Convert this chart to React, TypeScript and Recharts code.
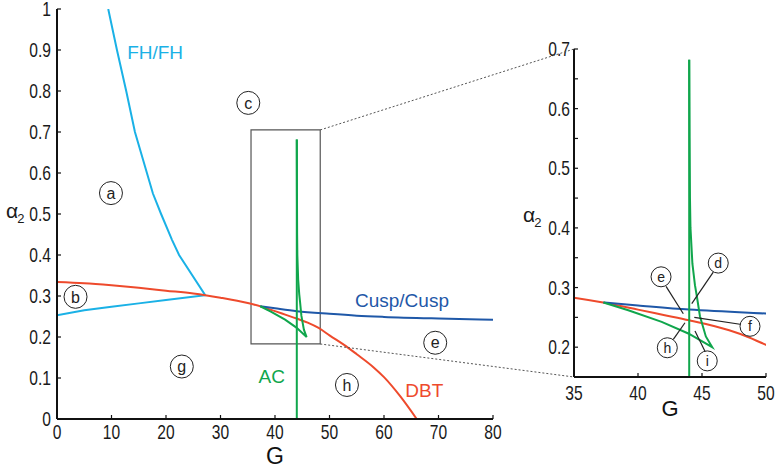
import React from 'react';
import {
  ComposedChart,
  Line,
  XAxis,
  YAxis,
  ReferenceDot,
  ReferenceLine,
  ReferenceArea,
} from 'recharts';

// boundary curves (G, alpha2)
const fhG = [0, 5, 10, 15, 20, 27.2, 22.4, 21.1, 19.1, 17.6, 16.5, 14.3, 12.7, 11.0, 9.4];
const fhA = [0.253, 0.265, 0.274, 0.282, 0.29, 0.302, 0.4, 0.437, 0.5, 0.55, 0.6, 0.7, 0.8, 0.9, 1.0];
const dbtG = [0, 5, 10, 15, 20, 25, 27.2, 30, 35, 37.5, 40, 42, 44, 46, 48, 50, 53.5, 55, 58, 60, 63, 66];
const dbtA = [0.334, 0.331, 0.326, 0.32, 0.313, 0.306, 0.302, 0.296, 0.283, 0.274, 0.263, 0.254, 0.245, 0.235, 0.222, 0.204, 0.173, 0.158, 0.127, 0.102, 0.055, 0];
const cuspG = [37.3, 40, 44, 50, 55, 60, 70, 80];
const cuspA = [0.275, 0.27, 0.263, 0.2565, 0.252, 0.249, 0.245, 0.242];
const acG = [44, 44.03, 44.06, 44.1, 44.25, 44.45, 44.6, 44.84, 45.3, 45.8, 43.93, 41.85, 39.24, 37.3];
const acA = [0.682, 0.55, 0.45, 0.4, 0.34, 0.304, 0.285, 0.252, 0.218, 0.2, 0.223, 0.2425, 0.262, 0.275];
const stemG = [44, 44];
const stemA = [0, 0.682];

// region markers in the main plot
const regionLetters = ['a', 'b', 'c', 'e', 'g', 'h'];
const regionG = [9.9, 3.4, 35.1, 69.4, 22.9, 53.2];
const regionA = [0.551, 0.298, 0.771, 0.186, 0.128, 0.083];

// curve names
const curveNames = ['FH/FH', 'Cusp/Cusp', 'AC', 'DBT'];
const curveNameG = [18, 63.3, 39.4, 67.4];
const curveNameA = [0.895, 0.289, 0.105, 0.071];

// callouts in the zoomed plot
const calloutLetters = ['d', 'e', 'f', 'h', 'i'];
const calloutG = [46.27, 41.8, 48.75, 42.29, 45.41];
const calloutA = [0.341, 0.318, 0.235, 0.199, 0.177];
const leaderFromG = [45.88, 42.19, 48.1, 42.76, 45.31];
const leaderFromA = [0.326, 0.302, 0.238, 0.213, 0.19];
const leaderToG = [44.2, 43.54, 44.4, 43.67, 44.45];
const leaderToA = [0.273, 0.256, 0.25, 0.241, 0.227];

const zoomBoxG = [35.6, 48.3];
const zoomBoxA = [0.183, 0.705];

const mainGTicks = [0, 10, 20, 30, 40, 50, 60, 70, 80];
const mainATicks = [0, 0.1, 0.2, 0.3, 0.4, 0.5, 0.6, 0.7, 0.8, 0.9, 1];
const insetGTicks = [35, 40, 45, 50];
const insetATicks = [0.2, 0.25, 0.3, 0.35, 0.4, 0.45, 0.5, 0.55, 0.6, 0.65, 0.7];

const CYAN = '#1ab1e6';
const RED = '#ee4a2c';
const BLUE = '#1f58a8';
const GREEN = '#10a64c';
const FONT = '"Liberation Sans", Arial, sans-serif';

const pts = (g: number[], a: number[]) => g.map((x, i) => ({ G: x, a: a[i] }));
const fhData = pts(fhG, fhA);
const dbtData = pts(dbtG, dbtA);
const cuspData = pts(cuspG, cuspA);
const acData = pts(acG, acA);
const stemData = pts(stemG, stemA);

// plot boxes (page pixels) used for the dotted connector lines
const MAIN = { left: 57, right: 493, top: 9, bottom: 419, g: [0, 80], a: [0, 1] };
const INSET = { left: 574, right: 766, top: 49, bottom: 377, g: [35, 50], a: [0.15, 0.7] };
const px = (b: typeof MAIN, g: number) => b.left + ((g - b.g[0]) / (b.g[1] - b.g[0])) * (b.right - b.left);
const py = (b: typeof MAIN, a: number) => b.bottom - ((a - b.a[0]) / (b.a[1] - b.a[0])) * (b.bottom - b.top);

const TICK_LEN = 4;
const TICK_FS = 20;
const NARROW = 0.78; // tick numbers look like a condensed face

// inward tick mark + optional label (MATLAB style box axes)
const Tick = (props: any) => {
  const { x, y, payload, side, m, fmt } = props;
  const v = payload.value;
  const label = fmt ? fmt(v) : '';
  if (side === 'bottom') {
    const ay = y - m;
    return (
      <g>
        <line x1={x} y1={ay} x2={x} y2={ay - TICK_LEN} stroke='#111' strokeWidth={1.2} />
        <text transform={`translate(${x},${y}) scale(${NARROW},1)`} dy='0.72em' textAnchor='middle' fontSize={TICK_FS} fill='#1a1a1a' fontFamily={FONT}>{label}</text>
      </g>
    );
  }
  if (side === 'left') {
    const ax = x + m;
    return (
      <g>
        <line x1={ax} y1={y} x2={ax + TICK_LEN} y2={y} stroke='#111' strokeWidth={1.2} />
        <text transform={`translate(${x},${y}) scale(${NARROW},1)`} dy='0.36em' textAnchor='end' fontSize={TICK_FS} fill='#1a1a1a' fontFamily={FONT}>{label}</text>
      </g>
    );
  }
  if (side === 'top') {
    const ay = y + m;
    return <line x1={x} y1={ay} x2={x} y2={ay + TICK_LEN} stroke='#111' strokeWidth={1.2} />;
  }
  const ax = x - m;
  return <line x1={ax} y1={y} x2={ax - TICK_LEN} y2={y} stroke='#111' strokeWidth={1.2} />;
};

const AlphaLabel = (props: any) => {
  const { viewBox, dx, dy } = props;
  const { x, y, height } = viewBox;
  return (
    <text x={x + dx} y={y + height / 2 + dy} fontSize={21} fill='#1a1a1a' fontFamily={FONT}>
      α
      <tspan fontSize={13} dx={-1} dy={5}>2</tspan>
    </text>
  );
};

const axisLine = { stroke: '#111', strokeWidth: 2 };
const plain = (v: number) => String(v);
const insetTick = (v: number) => (Math.abs(v * 10 - Math.round(v * 10)) < 1e-6 ? String(Math.round(v * 10) / 10) : '');

const curves = () => [
  <Line key='fh' data={fhData} dataKey='a' stroke={CYAN} strokeWidth={2} dot={false} type='linear' isAnimationActive={false} />,
  <Line key='dbt' data={dbtData} dataKey='a' stroke={RED} strokeWidth={2} dot={false} type='monotone' isAnimationActive={false} />,
  <Line key='cusp' data={cuspData} dataKey='a' stroke={BLUE} strokeWidth={2} dot={false} type='monotone' isAnimationActive={false} />,
  <Line key='ac' data={acData} dataKey='a' stroke={GREEN} strokeWidth={2} dot={false} type='linear' isAnimationActive={false} />,
  <Line key='stem' data={stemData} dataKey='a' stroke={GREEN} strokeWidth={2} dot={false} type='linear' isAnimationActive={false} />,
];

const MainChart = () => (
  <ComposedChart width={510} height={470} margin={{ top: 9, right: 17, bottom: 0, left: 0 }}>
    <XAxis
      type='number'
      dataKey='G'
      domain={[0, 80]}
      ticks={mainGTicks}
      interval={0}
      allowDataOverflow
      height={51}
      tickSize={0}
      tickMargin={6}
      tickLine={false}
      tick={<Tick side='bottom' m={6} fmt={plain} />}
      axisLine={axisLine}
      label={{ value: 'G', position: 'insideBottom', offset: 6, fontSize: 23, fill: '#111', fontFamily: FONT }}
    />
    <XAxis xAxisId='top' orientation='top' type='number' domain={[0, 80]} ticks={mainGTicks} interval={0} height={0}
      tickSize={0} tickMargin={0} tickLine={false} tick={<Tick side='top' m={0} />} axisLine={axisLine} />
    <YAxis
      type='number'
      domain={[0, 1]}
      ticks={mainATicks}
      interval={0}
      allowDataOverflow
      width={57}
      tickSize={0}
      tickMargin={6}
      tickLine={false}
      tick={<Tick side='left' m={6} fmt={plain} />}
      axisLine={axisLine}
      label={{ content: (p: any) => <AlphaLabel {...p} dx={6} dy={4} /> }}
    />
    <YAxis yAxisId='right' orientation='right' type='number' domain={[0, 1]} ticks={mainATicks} interval={0} width={0}
      tickSize={0} tickMargin={0} tickLine={false} tick={<Tick side='right' m={0} />} axisLine={axisLine} />
    {curves()}
    <ReferenceArea x1={zoomBoxG[0]} x2={zoomBoxG[1]} y1={zoomBoxA[0]} y2={zoomBoxA[1]} fill='none' stroke='#555' strokeWidth={1.2} ifOverflow='visible' />
    {regionLetters.map((l, i) => (
      <ReferenceDot key={l} x={regionG[i]} y={regionA[i]} r={11.5} fill='#fff' stroke='#222' strokeWidth={1}
        label={{ value: l, position: 'center', fontSize: 16, fill: '#222', fontFamily: FONT }} />
    ))}
    {curveNames.map((n, i) => (
      <ReferenceDot key={n} x={curveNameG[i]} y={curveNameA[i]} r={1} fill='none' stroke='none'
        label={{ value: n, position: 'center', fontSize: 19, fill: [CYAN, BLUE, GREEN, RED][i], fontFamily: FONT }} />
    ))}
  </ComposedChart>
);

const InsetChart = () => (
  <ComposedChart width={267} height={470} margin={{ top: 49, right: 11, bottom: 53, left: 0 }}>
    <XAxis
      type='number'
      dataKey='G'
      domain={[35, 50]}
      ticks={insetGTicks}
      interval={0}
      allowDataOverflow
      height={40}
      tickSize={0}
      tickMargin={9}
      tickLine={false}
      tick={<Tick side='bottom' m={9} fmt={plain} />}
      axisLine={axisLine}
      label={{ value: 'G', position: 'insideBottom', offset: 1, fontSize: 22, fill: '#111', fontFamily: FONT }}
    />
    <XAxis xAxisId='top' orientation='top' type='number' domain={[35, 50]} ticks={insetGTicks} interval={0} height={0}
      tickSize={0} tickMargin={0} tickLine={false} tick={<Tick side='top' m={0} />} axisLine={axisLine} />
    <YAxis
      type='number'
      domain={[0.15, 0.7]}
      ticks={insetATicks}
      interval={0}
      allowDataOverflow
      width={64}
      tickSize={0}
      tickMargin={4}
      tickLine={false}
      tick={<Tick side='left' m={4} fmt={insetTick} />}
      axisLine={axisLine}
      label={{ content: (p: any) => <AlphaLabel {...p} dx={13} dy={9} /> }}
    />
    <YAxis yAxisId='right' orientation='right' type='number' domain={[0.15, 0.7]} ticks={insetATicks} interval={0} width={0}
      tickSize={0} tickMargin={0} tickLine={false} tick={<Tick side='right' m={0} />} axisLine={axisLine} />
    {curves()}
    {calloutLetters.map((l, i) => (
      <ReferenceLine key={'ld' + l} segment={[{ x: leaderFromG[i], y: leaderFromA[i] }, { x: leaderToG[i], y: leaderToA[i] }]} stroke='#222' strokeWidth={1.2} />
    ))}
    {calloutLetters.map((l, i) => (
      <ReferenceDot key={l} x={calloutG[i]} y={calloutA[i]} r={10} fill='#fff' stroke='#222' strokeWidth={1}
        label={{ value: l, position: 'center', fontSize: 14, fill: '#222', fontFamily: FONT }} />
    ))}
  </ComposedChart>
);

export default function App() {
  const top = { x1: px(MAIN, zoomBoxG[1]), y1: py(MAIN, zoomBoxA[1]), x2: INSET.left, y2: INSET.top };
  const bot = { x1: px(MAIN, zoomBoxG[1]), y1: py(MAIN, zoomBoxA[0]), x2: INSET.left, y2: INSET.bottom };
  return (
    <div style={{ position: 'absolute', left: 0, top: 0, width: 777, height: 470, background: '#fff', fontFamily: FONT }}>
      <div style={{ position: 'absolute', left: 0, top: 0 }}>
        <MainChart />
      </div>
      <div style={{ position: 'absolute', left: 510, top: 0 }}>
        <InsetChart />
      </div>
      <svg width={777} height={470} style={{ position: 'absolute', left: 0, top: 0, pointerEvents: 'none' }}>
        <line {...top} stroke='#555' strokeWidth={1} strokeDasharray='2 2' />
        <line {...bot} stroke='#555' strokeWidth={1} strokeDasharray='2 2' />
      </svg>
    </div>
  );
}
